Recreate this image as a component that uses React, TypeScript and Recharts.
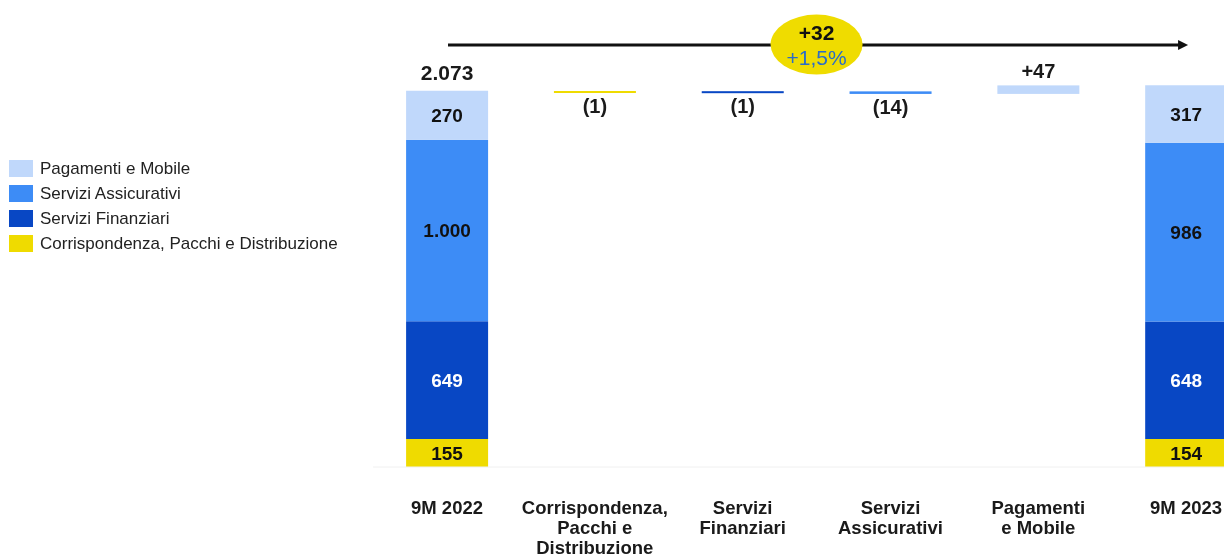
import React from 'react';
import {
  BarChart,
  Bar,
  XAxis,
  YAxis,
  Cell,
  LabelList,
  ReferenceLine,
  Legend,
} from 'recharts';

const categories = [
  '9M 2022',
  'Corrispondenza,\nPacchi e\nDistribuzione',
  'Servizi\nFinanziari',
  'Servizi\nAssicurativi',
  'Pagamenti\ne Mobile',
  '9M 2023',
];

// stacked segments of the two totals (2022, 2023)
const corrispondenza = [155, 154];
const finanziari = [649, 648];
const assicurativi = [1000, 986];
const pagamenti = [270, 317];
const totals = [2073, 2105];

// bridge steps between the totals
const deltas = [-1, -1, -14, 47];
const overallChange = '+32';
const overallPct = '+1,5%';

const COLORS = {
  corr: '#efdb00',
  fin: '#0847c4',
  ass: '#3d8cf6',
  pag: '#c0d8fb',
};
const deltaColors = [COLORS.corr, COLORS.fin, COLORS.ass, COLORS.pag];

const legendItems = [
  { label: 'Pagamenti e Mobile', color: COLORS.pag },
  { label: 'Servizi Assicurativi', color: COLORS.ass },
  { label: 'Servizi Finanziari', color: COLORS.fin },
  { label: 'Corrispondenza, Pacchi e Distribuzione', color: COLORS.corr },
];

const fmt = (v: number) => String(v).replace(/\B(?=(\d{3})+(?!\d))/g, '.');

const buildData = () => {
  const rows: any[] = [];
  rows.push({
    name: categories[0], base: 0, corr: corrispondenza[0], fin: finanziari[0],
    ass: assicurativi[0], pag: pagamenti[0], delta: 0, total: totals[0], change: null,
  });
  let running = totals[0];
  deltas.forEach((d, i) => {
    const low = d < 0 ? running + d : running;
    rows.push({
      name: categories[i + 1], base: low, corr: 0, fin: 0, ass: 0, pag: 0,
      delta: Math.abs(d), total: null, change: d,
    });
    running += d;
  });
  rows.push({
    name: categories[5], base: 0, corr: corrispondenza[1], fin: finanziari[1],
    ass: assicurativi[1], pag: pagamenti[1], delta: 0, total: totals[1], change: null,
  });
  return rows;
};

const data = buildData();

const FONT = "'Liberation Sans', Arial, sans-serif";

const XTick = (props: any) => {
  const { x, y, payload } = props;
  const lines = String(payload.value).split('\n');
  return (
    <text x={x} y={y} textAnchor="middle" fontFamily={FONT} fontWeight="bold" fontSize={18.5} fill="#1a1a1a">
      {lines.map((l, i) => (
        <tspan key={i} x={x} dy={i === 0 ? 47 : 20}>{l}</tspan>
      ))}
    </text>
  );
};

const DeltaShape = (props: any) => {
  const { x, y, width, height, fill } = props;
  if (!height && height !== 0) return null;
  const h = Math.max(height, 2);
  return <rect x={x} y={y} width={width} height={h} fill={fill} />;
};

const segLabel = (key: string, fill: string) => (
  <LabelList
    dataKey={key}
    position="center"
    fill={fill}
    fontSize={19}
    fontWeight="bold"
    fontFamily={FONT}
    formatter={(v: any) => (v ? fmt(Number(v)) : '')}
  />
);

const TotalLabel = (props: any) => {
  const { x, y, width, index } = props;
  const row = data[index];
  if (!row || row.total == null) return null;
  return (
    <text x={x + width / 2} y={y - 11} textAnchor="middle" fontFamily={FONT} fontWeight="bold" fontSize={21} fill="#1a1a1a">
      {fmt(row.total)}
    </text>
  );
};

const DeltaLabel = (props: any) => {
  const { x, y, width, height, index } = props;
  const row = data[index];
  if (!row || row.change == null) return null;
  const neg = row.change < 0;
  const h = Math.max(height, 2);
  return (
    <text
      x={x + width / 2}
      y={neg ? y + h + 20 : y - 7}
      textAnchor="middle"
      fontFamily={FONT}
      fontWeight="bold"
      fontSize={20}
      fill="#1a1a1a"
    >
      {neg ? `(${Math.abs(row.change)})` : `+${row.change}`}
    </text>
  );
};

const ArrowBadge = (props: any) => {
  const vb = props.viewBox || {};
  const x1 = vb.x;
  const x2 = vb.x + vb.width;
  const y = vb.y;
  const cx = (x1 + x2) / 2;
  return (
    <g>
      <line x1={x1 + 1} y1={y} x2={x2 - 2} y2={y} stroke="#111" strokeWidth={3} />
      <polygon points={`${x2 + 2},${y} ${x2 - 8},${y - 5} ${x2 - 8},${y + 5}`} fill="#111" />
      <ellipse cx={cx} cy={y - 0.5} rx={46} ry={30} fill="#efdc00" />
      <text x={cx} y={y - 5} textAnchor="middle" fontFamily={FONT} fontWeight="bold" fontSize={21} fill="#111">
        {overallChange}
      </text>
      <text x={cx} y={y + 20} textAnchor="middle" fontFamily={FONT} fontSize={21} fill="#2a6cc8">
        {overallPct}
      </text>
    </g>
  );
};

const LegendBox = () => (
  <div style={{ fontFamily: FONT, fontSize: 17, color: '#222' }}>
    {legendItems.map((it) => (
      <div key={it.label} style={{ display: 'flex', alignItems: 'center', height: 25 }}>
        <span style={{ display: 'inline-block', width: 24, height: 17, background: it.color, marginRight: 7 }} />
        <span>{it.label}</span>
      </div>
    ))}
  </div>
);

export default function App() {
  return (
    <div style={{ position: 'fixed', left: 0, top: 0, width: 1224, height: 558, overflow: 'hidden' }}>
      <div style={{ position: 'absolute', left: 8, top: 8 }}>
        <BarChart
          width={1252}
          height={550}
          data={data}
          margin={{ top: 23.7, right: 0, bottom: 0, left: 365.1 }}
          barSize={82}
        >
          <XAxis
            dataKey="name"
            interval={0}
            height={91}
            tickLine={false}
            tickSize={0}
            tickMargin={0}
            axisLine={{ stroke: '#f0f0f0' }}
            tick={<XTick />}
          />
          <YAxis hide domain={[0, 2400]} />
          <Legend
            layout="horizontal"
            verticalAlign="middle"
            align="center"
            wrapperStyle={{ left: 1, top: 148, width: 350 }}
            content={<LegendBox />}
          />
          <ReferenceLine
            segment={[
              { x: categories[0], y: 2326 },
              { x: categories[5], y: 2326 },
            ]}
            stroke="none"
            ifOverflow="visible"
            label={<ArrowBadge />}
          />
          <Bar dataKey="base" stackId="a" fill="transparent" isAnimationActive={false} />
          <Bar dataKey="corr" stackId="a" fill={COLORS.corr} isAnimationActive={false}>
            {segLabel('corr', '#111')}
          </Bar>
          <Bar dataKey="fin" stackId="a" fill={COLORS.fin} isAnimationActive={false}>
            {segLabel('fin', '#ffffff')}
          </Bar>
          <Bar dataKey="ass" stackId="a" fill={COLORS.ass} isAnimationActive={false}>
            {segLabel('ass', '#111')}
          </Bar>
          <Bar dataKey="pag" stackId="a" fill={COLORS.pag} isAnimationActive={false}>
            {segLabel('pag', '#111')}
            <LabelList content={<TotalLabel />} />
          </Bar>
          <Bar dataKey="delta" stackId="a" isAnimationActive={false} shape={<DeltaShape />}>
            {data.map((row, i) => (
              <Cell key={i} fill={i >= 1 && i <= 4 ? deltaColors[i - 1] : 'transparent'} />
            ))}
            <LabelList content={<DeltaLabel />} />
          </Bar>
        </BarChart>
      </div>
    </div>
  );
}
